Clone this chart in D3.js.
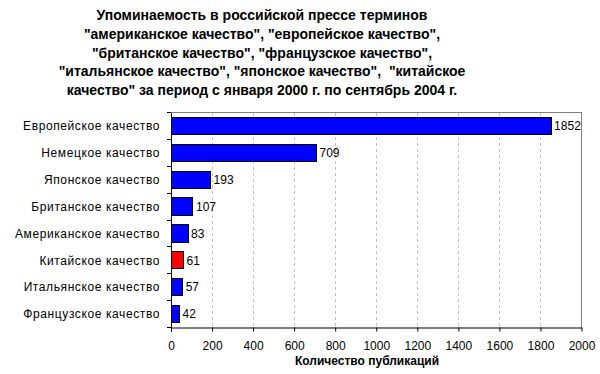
<!DOCTYPE html>
<html><head><meta charset="utf-8">
<script src="https://cdn.jsdelivr.net/npm/d3@7"></script>
<style>body{margin:0;background:#fff}svg{display:block}</style>
</head><body>
<script>
const categories = ["Европейское качество","Немецкое качество","Японское качество","Британское качество","Американское качество","Китайское качество","Итальянское качество","Французское качество"];
const values = [1852,709,193,107,83,61,57,42];
const highlight = ["Китайское качество"];
const xTicks = [0,200,400,600,800,1000,1200,1400,1600,1800,2000];
const titleLines = ["Упоминаемость в российской прессе терминов","\"американское качество\", \"европейское качество\",","\"британское качество\", \"французское качество\",","\"итальянское качество\", \"японское качество\",  \"китайское","качество\" за период с января 2000 г. по сентябрь 2004 г."];
const xTitle = "Количество публикаций";

const W=600,H=374;
const m={left:171,right:581.5,top:112.5,bottom:327.5};
const svg=d3.select("body").append("svg").attr("width",W).attr("height",H);
const font="Liberation Sans, Arial, sans-serif";

const x=d3.scaleLinear().domain([0,2000]).range([m.left,m.right]);
const y=d3.scaleBand().domain(categories).range([m.top,m.bottom]).paddingInner(0.36).paddingOuter(0.18);

// title
svg.append("g").selectAll("text").data(titleLines).join("text")
 .attr("x",262).attr("y",(d,i)=>20+i*18.8).attr("text-anchor","middle")
 .style("white-space","pre")
 .attr("font-family",font).attr("font-weight","bold").attr("font-size",14).attr("fill","#000")
 .text(d=>d);

// grid
svg.append("g").selectAll("line").data(xTicks.slice(1,-1)).join("line")
 .attr("x1",d=>x(d)).attr("x2",d=>x(d)).attr("y1",m.top).attr("y2",m.bottom)
 .attr("stroke","#c0c0c0").attr("stroke-dasharray","3,3").attr("shape-rendering","crispEdges");
// plot border top/right
svg.append("path").attr("d",`M${m.left},${m.top}H${m.right}V${m.bottom}`).attr("fill","none")
 .attr("stroke","#808080").attr("shape-rendering","crispEdges");

// bars
svg.append("g").selectAll("rect").data(categories).join("rect")
 .attr("x",x(0)).attr("y",d=>y(d)).attr("height",y.bandwidth())
 .attr("width",(d,i)=>x(values[i])-x(0))
 .attr("fill",d=>highlight.includes(d)?"#ff0000":"#0000ff")
 .attr("stroke","#000").attr("stroke-width",1).attr("shape-rendering","crispEdges");

// value labels
svg.append("g").selectAll("text").data(categories).join("text")
 .attr("x",(d,i)=>x(values[i])+3).attr("y",d=>y(d)+y.bandwidth()/2).attr("dy","0.35em")
 .attr("font-family",font).attr("font-size",12).attr("fill","#000")
 .text((d,i)=>values[i]);

// axes
const xAxis=d3.axisBottom(x).tickValues(xTicks).tickFormat(d3.format("d")).tickSize(4).tickSizeOuter(0);
const gx=svg.append("g").attr("transform",`translate(0,${m.bottom})`).call(xAxis);
gx.selectAll("text").attr("font-family",font).attr("font-size",12).attr("fill","#000").attr("y",22.5).attr("dy",null);
gx.select(".domain").attr("stroke","#000");
gx.selectAll(".tick line").attr("stroke","#000");

const yBounds=d3.range(categories.length+1).map(i=>m.top+i*(m.bottom-m.top)/categories.length);
svg.append("line").attr("x1",m.left).attr("x2",m.left).attr("y1",m.top).attr("y2",m.bottom+4).attr("stroke","#000").attr("shape-rendering","crispEdges");
svg.append("g").selectAll("line").data(yBounds).join("line")
 .attr("x1",m.left-4).attr("x2",m.left).attr("y1",d=>d).attr("y2",d=>d).attr("stroke","#000").attr("shape-rendering","crispEdges");

svg.append("g").selectAll("text").data(categories).join("text")
 .attr("x",160).attr("y",d=>y(d)+y.bandwidth()/2).attr("dy","0.35em").attr("text-anchor","end")
 .attr("font-family",font).attr("font-size",12).attr("letter-spacing","0.6px").attr("fill","#000")
 .text(d=>d);

svg.append("text").attr("x",367).attr("y",365).attr("text-anchor","middle")
 .attr("font-family",font).attr("font-weight","bold").attr("font-size",12).attr("fill","#000").text(xTitle);
</script>
</body></html>
